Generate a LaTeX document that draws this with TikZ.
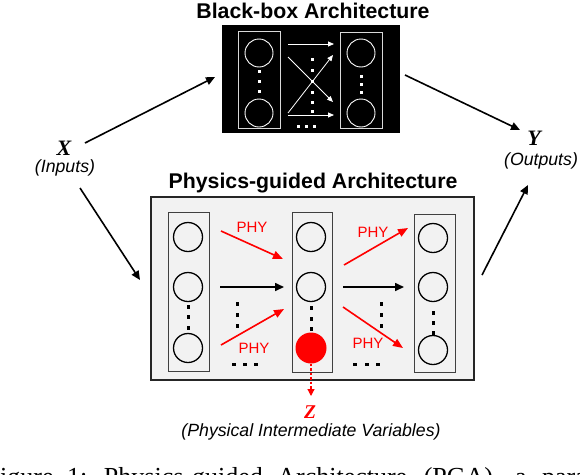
\documentclass[tikz,border=0pt]{standalone}
\usepackage{fontspec}
\setmainfont{Liberation Sans}
\newfontfamily\serifx{Liberation Serif}
\usetikzlibrary{arrows.meta}
\definecolor{panel}{HTML}{F2F2F2}
\definecolor{phyred}{HTML}{FF0000}
\tikzset{
  neuron/.style={circle, draw=black, line width=1.3pt, minimum size=29pt, inner sep=0pt},
  wneuron/.style={circle, draw=white, line width=0.9pt, minimum size=28pt, inner sep=0pt},
  colbox/.style={draw=black!75, line width=1pt, fill=panel, inner sep=0pt},
  wcolbox/.style={draw=white!85!black, line width=0.9pt, inner sep=0pt},
  arr/.style={line width=1.6pt, -{Triangle[length=9pt,width=8pt]}},
  warr/.style={draw=white, line width=0.8pt, -{Triangle[length=6pt,width=5pt]}},
  rarr/.style={draw=phyred, line width=1.6pt, -{Triangle[length=10pt,width=8pt]}},
  phy/.style={text=phyred, font=\fontsize{15}{15}\selectfont, inner sep=0pt},
  title/.style={font=\fontsize{21.3}{24}\selectfont\bfseries, inner sep=0pt, anchor=base},
  sub/.style={font=\fontsize{17.7}{20}\selectfont\itshape, inner sep=0pt, anchor=base},
  var/.style={font=\serifx\fontsize{22}{24}\selectfont\bfseries\itshape, inner sep=0pt, anchor=base}
}
\begin{document}
\begin{tikzpicture}[x=1pt,y=-1pt]
\useasboundingbox (0,0) rectangle (580,474);
% Black-box
\node[title] (bbt) at (313,18) {Black-box Architecture};
\node[fill=black, minimum width=178pt, minimum height=108pt, inner sep=0pt] (bb) at (311,79) {};
\node[wcolbox, minimum width=42pt, minimum height=97pt] (bl) at (259,79.5) {};
\node[wcolbox, minimum width=42pt, minimum height=96pt] (br) at (361,80) {};
\node[wneuron] (bl1) at (259,53) {};
\node[wneuron] (bl2) at (259,113) {};
\node[wneuron] (br1) at (361,53) {};
\node[wneuron] (br2) at (361,113) {};
\foreach \yy in {71,81,91} \fill[white] (257.5,\yy-1.5) rectangle ++(3,3);
\foreach \yy in {76,84,92} \fill[white] (359.5,\yy-1.5) rectangle ++(3,3);
\foreach \yy in {59,70,81,92,102,111} \fill[white] (310.5,\yy-1.5) rectangle ++(3,3);
\foreach \xx in {298,306,314} \fill[white] (\xx-1.5,124.5) rectangle ++(3,3);
\coordinate (ba1) at (288,44); \coordinate (bb1) at (334,44);
\coordinate (ba2) at (288,115); \coordinate (bb2) at (334,115);
\coordinate (ba3) at (288,57); \coordinate (bb3) at (333,102);
\coordinate (ba4) at (288,113); \coordinate (bb4) at (333,55);
\draw[warr] (ba1) -- (bb1);
\draw[warr] (ba2) -- (bb2);
\draw[warr] (ba3) -- (bb3);
\draw[warr] (ba4) -- (bb4);
% Physics-guided
\node[title] (pgt) at (313,188) {Physics-guided Architecture};
\node[draw=black!85, line width=1.8pt, fill=panel, minimum width=323pt, minimum height=183pt, inner sep=0pt] (pg) at (312.5,288.5) {};
\node[colbox, minimum width=41pt, minimum height=159pt] (c1) at (188.5,291.5) {};
\node[colbox, minimum width=40pt, minimum height=160pt] (c2) at (312,292) {};
\node[colbox, minimum width=41pt, minimum height=158pt] (c3) at (434.5,293) {};
\node[neuron] (n11) at (188,237) {};
\node[neuron] (n12) at (188,287) {};
\node[neuron] (n13) at (188,348) {};
\node[neuron] (n21) at (311,237) {};
\node[neuron] (n22) at (311,287) {};
\node[circle, fill=phyred, minimum size=31pt, inner sep=0pt] (n23) at (311,348) {};
\node[neuron] (n31) at (433,238) {};
\node[neuron] (n32) at (433,287) {};
\node[neuron] (n33) at (433,350) {};
\foreach \yy in {307,317,328} \fill (186.5,\yy-1.75) rectangle ++(3.5,3.5);
\foreach \yy in {308,319,329} \fill (309.5,\yy-1.75) rectangle ++(3.5,3.5);
\foreach \yy in {313,323,333} \fill (431.5,\yy-1.75) rectangle ++(3.5,3.5);
\foreach \yy in {304,315,326} \fill (235.5,\yy-1.75) rectangle ++(3.5,3.5);
\foreach \yy in {304,315,326} \fill (379.5,\yy-1.75) rectangle ++(3.5,3.5);
\foreach \xx in {234,245,256} \fill (\xx-1.75,362.5) rectangle ++(3.5,3.5);
\foreach \xx in {355,367,378} \fill (\xx-1.75,362.5) rectangle ++(3.5,3.5);
% connectors in physics box
\coordinate (p1a) at (220,287); \coordinate (p1b) at (284,287);
\coordinate (p2a) at (343,287); \coordinate (p2b) at (404,287);
\coordinate (r1a) at (221,231); \coordinate (r1b) at (283,259);
\coordinate (r2a) at (221,345); \coordinate (r2b) at (284,309);
\coordinate (r3a) at (344,265); \coordinate (r3b) at (408,228);
\coordinate (r4a) at (343,307); \coordinate (r4b) at (403,348);
\draw[arr] (p1a) -- (p1b);
\draw[arr] (p2a) -- (p2b);
\draw[rarr] (r1a) -- (r1b);
\draw[rarr] (r2a) -- (r2b);
\draw[rarr] (r3a) -- (r3b);
\draw[rarr] (r4a) -- (r4b);
\node[phy] (phy1) at (252,227) {PHY};
\node[phy] (phy2) at (254,348) {PHY};
\node[phy] (phy3) at (373,232) {PHY};
\node[phy] (phy4) at (368,343) {PHY};
% X, Y, Z
\node[var] (X) at (64,155.5) {X};
\node[sub] (Xs) at (65,172) {(Inputs)};
\node[var] (Y) at (534,145) {Y};
\node[sub] (Ys) at (541,165) {(Outputs)};
\node[var, text=phyred, font=\serifx\fontsize{19.5}{22}\selectfont\bfseries\itshape] (Z) at (310,418) {Z};
\node[sub] (Zs) at (311,436) {(Physical Intermediate Variables)};
\coordinate (xa1) at (85,143); \coordinate (xb1) at (215,77);
\coordinate (xa2) at (80,188); \coordinate (xb2) at (140,280);
\coordinate (ya1) at (405,75); \coordinate (yb1) at (520,130);
\coordinate (ya2) at (482,275); \coordinate (yb2) at (528,185);
\coordinate (zb) at (311,396);
\draw[arr] (xa1) -- (xb1);
\draw[arr] (xa2) -- (xb2);
\draw[arr] (ya1) -- (yb1);
\draw[arr] (ya2) -- (yb2);
\draw[draw=phyred, line width=1.2pt, dash pattern=on 2.5pt off 2pt, -{Triangle[length=7pt,width=7pt]}] (n23.south) -- (zb);
% caption (clipped)
\begin{scope}
\clip (0,0) rectangle (580,474);
\node[anchor=base west, inner sep=0pt, font=\serifx\fontsize{26}{26}\selectfont] (cap) at (-14.5,485) {Figure\hspace{7pt} 1:\hspace{8pt} Physics-guided\hspace{8pt} Architecture\hspace{10pt} (PGA),\hspace{9pt} a\hspace{9pt} paradigm};
\end{scope}
\end{tikzpicture}
\end{document}
